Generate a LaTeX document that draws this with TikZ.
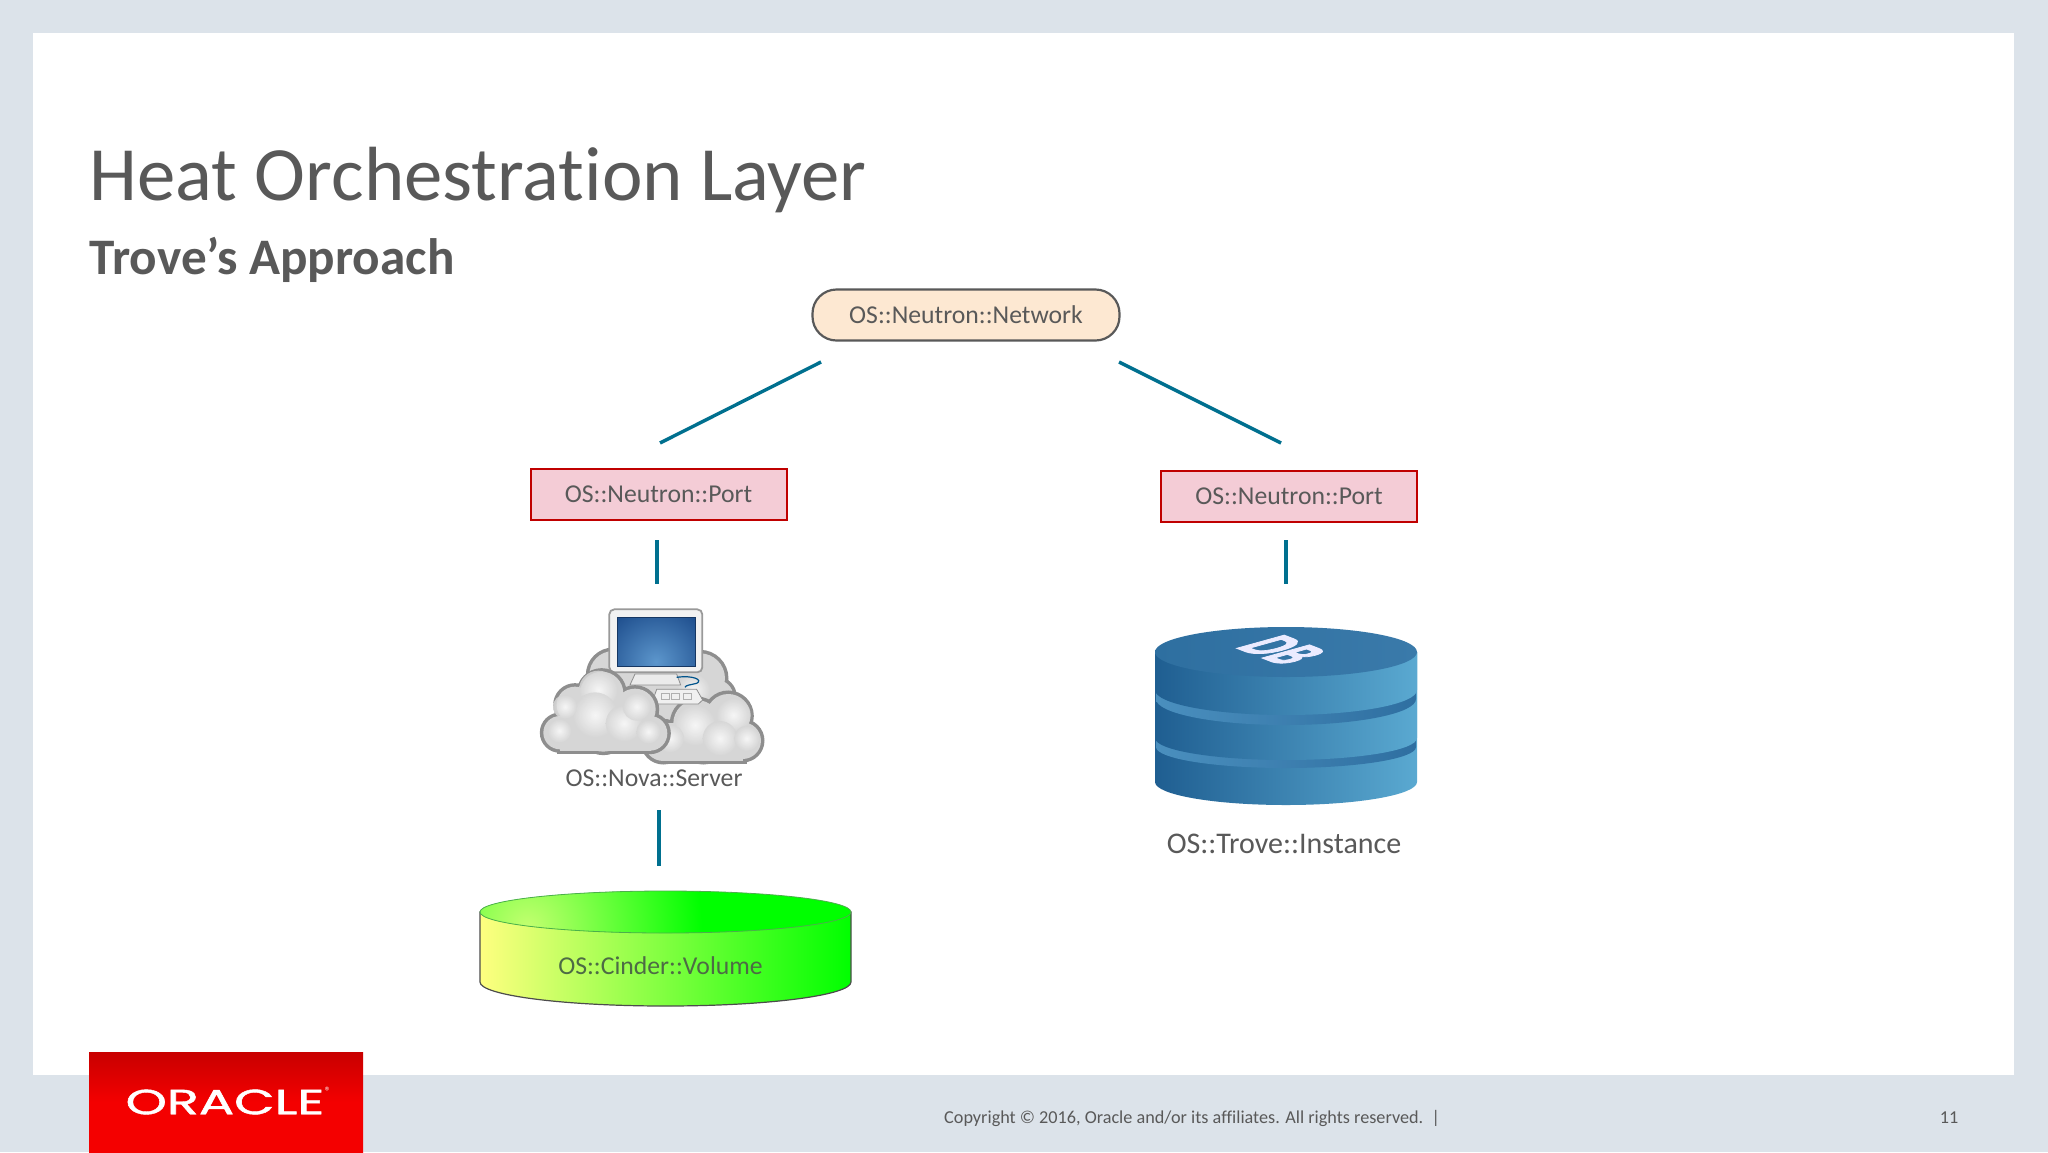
\documentclass[tikz,border=0pt]{standalone}
\usepackage{graphicx}
\usepackage{fontspec}
\setmainfont[Ligatures=NoCommon]{Carlito}
\newfontfamily\logofont[FakeBold=1.2]{Poppins}
\newfontfamily\dbfont[BoldFeatures={FakeBold=3}]{Carlito}
\usetikzlibrary{calc}
\definecolor{pagebg}{HTML}{DCE3EA}
\definecolor{inktext}{HTML}{595959}
\definecolor{conncol}{HTML}{00708F}
\definecolor{netfill}{HTML}{FDE8D2}
\definecolor{portfill}{HTML}{F4CCD6}
\definecolor{portline}{HTML}{C00000}
\definecolor{cloudedge}{HTML}{8E8E8E}
\definecolor{puffhi}{HTML}{FCFCFC}
\definecolor{puffbasecol}{HTML}{D6D6D6}
\definecolor{screenhi}{HTML}{5C96CC}
\definecolor{screenlo}{HTML}{1F4F8E}
\definecolor{Xa}{HTML}{1F5E91}
\definecolor{Xb}{HTML}{3478A9}
\definecolor{Xc}{HTML}{5AA9D1}
\definecolor{Xg}{HTML}{4A8FBE}
\definecolor{Xh}{HTML}{2F6FA1}
\definecolor{Xt}{HTML}{2E6FA0}
\definecolor{Xu}{HTML}{3B7AA8}
\definecolor{Xv}{HTML}{3A7AAA}
\definecolor{Ya}{HTML}{FFFF80}
\definecolor{Yb}{HTML}{90FF50}
\definecolor{Yc}{HTML}{00FF00}
\definecolor{Yh}{HTML}{C4FF70}
\definecolor{cindertext}{HTML}{4D6B45}
\definecolor{Lt}{HTML}{C80000}
\definecolor{Lb}{HTML}{F40000}
\newcommand{\cylpath}[5]{% xl xr ytop ybot ry
  (#1,#3) -- (#1,#4)
  .. controls (#1,{#4+.5523*#5}) and ({(#1+#2)/2-.5523*(#2-#1)/2},{#4+#5}) .. ({(#1+#2)/2},{#4+#5})
  .. controls ({(#1+#2)/2+.5523*(#2-#1)/2},{#4+#5}) and (#2,{#4+.5523*#5}) .. (#2,#4)
  -- (#2,#3) -- cycle}
% #1 outline circles, #2 flat-bottom rectangle corners, #3 soft inner puffs
\newcommand{\puffs}[3]{%
  \foreach \px/\py/\pr in {#1}{\fill[puffedge] (\px,\py) circle (\pr);}
  \foreach \ax/\ay/\bx/\by in {#2}{\fill[puffedge] (\ax,\ay) rectangle (\bx,\by);}
  \foreach \px/\py/\pr in {#1}{\fill[puffbase] (\px,\py) circle (\pr);}
  \foreach \ax/\ay/\bx/\by in {#2}{\fill[puffbase] (\ax,\ay) rectangle (\bx,\by);}
  \foreach \px/\py/\pr in {#3}{\shade[inner color=puffhi,outer color=puffbasecol,opacity=.85] (\px,\py) circle (\pr);}}
\tikzset{
  netbox/.style={draw=inktext,line width=2.2pt,fill=netfill,rounded corners=24pt,minimum width=307pt,minimum height=51pt,text=inktext,font=\fontsize{25.7}{30}\selectfont,inner sep=0pt},
  portbox/.style={draw=portline,line width=2pt,fill=portfill,minimum width=256pt,minimum height=51pt,text=inktext,font=\fontsize{25.7}{30}\selectfont,inner sep=0pt},
  conn/.style={draw=conncol,line width=3.4pt},
  lbl/.style={text=inktext,inner sep=0pt,font=\fontsize{25.7}{30}\selectfont},
  puffedge/.style={draw=cloudedge,line width=7pt,fill=cloudedge},
  puffbase/.style={fill=puffbasecol}
}
\begin{document}
\begin{tikzpicture}[x=1pt,y=-1pt]
\useasboundingbox (0,0) rectangle (2048,1152);
\fill[pagebg] (0,0) rectangle (2048,1152);
\fill[white] (33,33) rectangle (2014,1075);
% title
\node[anchor=base west,inner sep=0pt,text=inktext,font=\fontsize{76.8}{80}\selectfont] (title) at (89.5,200.5) {Heat Orchestration Layer};
\node[anchor=base west,inner sep=0pt,text=inktext,font=\fontsize{51.2}{55}\selectfont\bfseries] (subtitle) at (89.5,274) {Trove’s Approach};
% nodes
\node[netbox] (net) at (966,315) {OS::Neutron::Network};
\node[portbox] (port1) at (658.5,494.5) {OS::Neutron::Port};
\node[portbox] (port2) at (1289,496.5) {OS::Neutron::Port};
% connectors
\coordinate (n1a) at (821,362); \coordinate (n1b) at (660,443);
\coordinate (n2a) at (1119,362); \coordinate (n2b) at (1281,443);
\coordinate (p1a) at (657,540); \coordinate (p1b) at (657,584);
\coordinate (p2a) at (1286,540); \coordinate (p2b) at (1286,584);
\coordinate (s1a) at (659,810); \coordinate (s1b) at (659,866);
\draw[conn] (n1a) -- (n1b);
\draw[conn] (n2a) -- (n2b);
\draw[conn] (p1a) -- (p1b);
\draw[conn] (p2a) -- (p2b);
\draw[conn] (s1a) -- (s1b);
% server picture
\begin{scope}[shift={(520,590)},x=.3333pt,y=-.3333pt]
 \puffs{280/255/72,540/265/75,590/320/50,420/300/100}{}{250/290/50,520/300/50}
 \puffs{625/378/66,530/400/70,668/452/55,430/455/58,550/455/58}{430/400/670/513}{640/375/52,525/405/62,600/445/52,450/445/42,680/445/38}
 % monitor
 \draw[cloudedge,line width=.8pt,fill=white!92!black] (345,252) -- (470,252) -- (482,285) -- (330,285) -- cycle;
 \draw[blue!40!cyan!55!black,line width=1.2pt] (470,262) .. controls (520,255) and (550,270) .. (530,280) .. controls (510,285) and (498,285) .. (495,292);
 \draw[cloudedge,line width=.8pt,fill=white!94!black] (410,298) -- (530,298) -- (548,330) -- (535,342) -- (395,342) -- cycle;
 \foreach \kx in {425,455,490}{\draw[cloudedge!70,line width=.6pt] (\kx,310) rectangle ++(24,18);}
 \draw[cloudedge!90,line width=1.8pt,fill=white!95!black,rounded corners=5pt] (268,58) rectangle (547,247);
 \begin{scope}
  \clip (292,82) rectangle (525,228);
  \fill[screenlo] (292,82) rectangle (525,228);
  \shade[inner color=screenhi,outer color=screenlo] (408,215) circle (175);
 \end{scope}
 \draw[screenlo!70!black,line width=.5pt] (292,82) rectangle (525,228);
 \puffs{120/428/50,165/345/55,245/310/65,345/358/62,390/430/52,250/418/67}{120/360/392/483}{235/300/58,225/375/68,312/400/55,350/350/42,135/350/36,118/422/36,385/425/36}
\end{scope}
\node[lbl] (novalbl) at (654,778) {OS::Nova::Server};
% DB
\shade[left color=Xa,middle color=Xb,right color=Xc] \cylpath{1155}{1417}{652}{782}{23};
\shade[left color=Xg,right color=Xh] \cylpath{1156}{1416}{652}{747}{21};
\shade[left color=Xa,middle color=Xb,right color=Xc] \cylpath{1155}{1417}{652}{738}{22};
\shade[left color=Xg,right color=Xh] \cylpath{1156}{1416}{652}{699}{26};
\shade[left color=Xa,middle color=Xb,right color=Xc] \cylpath{1155}{1417}{652}{690}{25};
\shade[left color=Xt,middle color=Xu,right color=Xv] (1286,652) ellipse [x radius=131,y radius=25];
\node[inner sep=0pt,text=white!92!blue,font=\dbfont\bfseries\fontsize{20}{22}\selectfont,transform shape,cm={2.0,-.77,3.6,1.0,(1282,650)}] (dblogo) at (0,0) {DB};
\node[lbl,font=\fontsize{30}{32}\selectfont] (trovelbl) at (1284,844) {OS::Trove::Instance};
% Cinder
\shade[left color=Ya,middle color=Yb,right color=Yc] \cylpath{480}{851}{912}{982}{24};
\draw[black!70,line width=1.2pt] \cylpath{480}{851}{912}{982}{24};
\begin{scope}
 \clip (665.5,912) ellipse [x radius=185.5,y radius=21];
 \fill[Yc] (480,891) rectangle (851,933);
 \shade[inner color=Yh,outer color=Yc] (527,928) circle (175);
\end{scope}
\draw[black!45!green!70!white,line width=.8pt] (665.5,912) ellipse [x radius=185.5,y radius=21];
\node[lbl,text=cindertext] (cinderlbl) at (660.5,966) {OS::Cinder::Volume};
% footer
\shade[top color=Lt,bottom color=Lb,middle color=Lb] (89,1052) rectangle (363,1152);
\node[inner sep=0pt,text=white,font=\logofont\fontsize{35}{36}\selectfont] (oracle) at (225,1102) {\scalebox{1.5}[1]{ORACLE}};
\node[inner sep=0pt,text=white,font=\fontsize{12}{13}\selectfont] (reg) at (328,1091) {®};
\node[anchor=base west,inner sep=0pt,text=inktext,font=\fontsize{18.2}{22}\selectfont] (copy) at (944,1123) {Copyright © 2016, Oracle and/or its affiliates. All rights reserved.\ \ |};
\node[anchor=base,inner sep=0pt,text=inktext,font=\fontsize{18.2}{22}\selectfont] (pageno) at (1949,1123) {11};
\end{tikzpicture}
\end{document}
